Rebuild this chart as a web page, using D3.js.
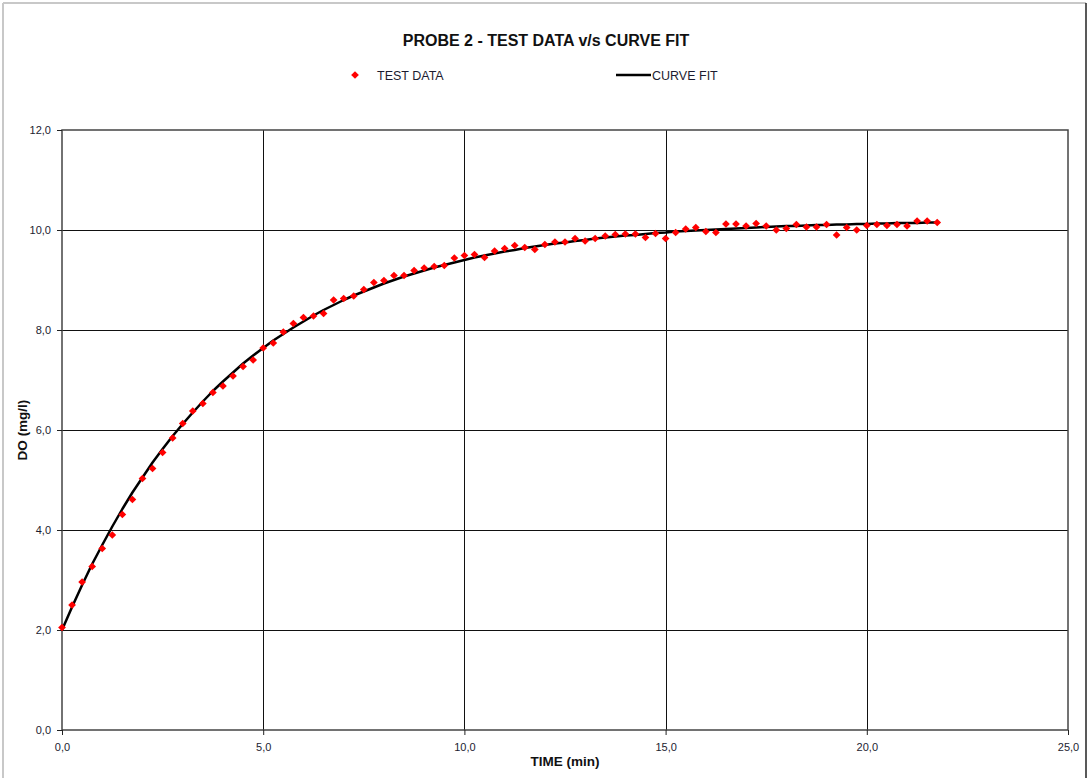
<!DOCTYPE html>
<html>
<head>
<meta charset="utf-8">
<script src="https://cdnjs.cloudflare.com/ajax/libs/d3/7.8.5/d3.min.js"></script>
<style>
  html, body { margin: 0; padding: 0; background: #fff; }
  svg { display: block; font-family: "Liberation Sans", Arial, sans-serif; }
</style>
</head>
<body>
<svg width="1089" height="778"></svg>
<script>
// time of each reading (min)
var times = [
  0, 0.25, 0.5, 0.75, 1, 1.25, 1.5, 1.75, 2, 2.25, 2.5, 2.75,
  3, 3.25, 3.5, 3.75, 4, 4.25, 4.5, 4.75, 5, 5.25, 5.5, 5.75,
  6, 6.25, 6.5, 6.75, 7, 7.25, 7.5, 7.75, 8, 8.25, 8.5, 8.75,
  9, 9.25, 9.5, 9.75, 10, 10.25, 10.5, 10.75, 11, 11.25, 11.5, 11.75,
  12, 12.25, 12.5, 12.75, 13, 13.25, 13.5, 13.75, 14, 14.25, 14.5, 14.75,
  15, 15.25, 15.5, 15.75, 16, 16.25, 16.5, 16.75, 17, 17.25, 17.5, 17.75,
  18, 18.25, 18.5, 18.75, 19, 19.25, 19.5, 19.75, 20, 20.25, 20.5, 20.75,
  21, 21.25, 21.5, 21.75
];

// measured DO (mg/l)
var testData = [
  2.05, 2.50, 2.96, 3.27, 3.63, 3.90, 4.31, 4.61, 5.03, 5.23, 5.55, 5.84,
  6.13, 6.38, 6.53, 6.75, 6.88, 7.08, 7.27, 7.40, 7.64, 7.74, 7.96, 8.13,
  8.25, 8.28, 8.33, 8.60, 8.63, 8.68, 8.81, 8.95, 8.99, 9.09, 9.09, 9.19,
  9.24, 9.27, 9.29, 9.44, 9.49, 9.51, 9.45, 9.58, 9.63, 9.69, 9.65, 9.61,
  9.71, 9.76, 9.76, 9.83, 9.78, 9.83, 9.88, 9.91, 9.92, 9.92, 9.85, 9.93,
  9.83, 9.95, 10.02, 10.05, 9.97, 9.95, 10.12, 10.12, 10.08, 10.13, 10.08, 10.00,
  10.03, 10.11, 10.06, 10.06, 10.11, 9.90, 10.05, 10.00, 10.09, 10.11, 10.09, 10.11,
  10.08, 10.18, 10.18, 10.15
];

// fitted curve (mg/l)
var curveFit = [
  2.00, 2.46, 2.90, 3.32, 3.70, 4.07, 4.42, 4.75, 5.05, 5.35, 5.62, 5.88,
  6.12, 6.35, 6.57, 6.78, 6.97, 7.15, 7.33, 7.49, 7.64, 7.79, 7.92, 8.05,
  8.17, 8.29, 8.40, 8.50, 8.60, 8.69, 8.77, 8.85, 8.93, 9.00, 9.07, 9.13,
  9.19, 9.25, 9.30, 9.35, 9.40, 9.45, 9.49, 9.53, 9.57, 9.60, 9.64, 9.67,
  9.70, 9.73, 9.75, 9.78, 9.80, 9.83, 9.85, 9.87, 9.89, 9.90, 9.92, 9.94,
  9.95, 9.97, 9.98, 9.99, 10.00, 10.01, 10.02, 10.03, 10.04, 10.05, 10.06, 10.07,
  10.08, 10.08, 10.09, 10.10, 10.10, 10.11, 10.11, 10.12, 10.12, 10.13, 10.13, 10.14,
  10.14, 10.14, 10.15, 10.15
];

var xTicks = [0, 5, 10, 15, 20, 25];
var yTicks = [0, 2, 4, 6, 8, 10, 12];

var svg = d3.select('svg');

// comma decimal like the original
var fmt = d3.formatLocale({decimal: ",", thousands: ".", grouping: [3], currency: ["", ""]}).format(".1f");

// outer chart frame
svg.append('line').attr('x1', 3).attr('y1', 3).attr('x2', 1086).attr('y2', 3)
    .attr('stroke', '#c8c8c8').attr('stroke-width', 2);
svg.append('line').attr('x1', 3).attr('y1', 3).attr('x2', 3).attr('y2', 778)
    .attr('stroke', '#c8c8c8').attr('stroke-width', 2);
svg.append('line').attr('x1', 1086).attr('y1', 3).attr('x2', 1086).attr('y2', 778)
    .attr('stroke', '#222').attr('stroke-width', 1.5);

var margin = {top: 130, right: 21, bottom: 48, left: 62},
    width = 1089 - margin.left - margin.right,
    height = 778 - margin.top - margin.bottom;

var g = svg.append('g')
    .attr('transform', 'translate(' + margin.left + ',' + margin.top + ')');

var x = d3.scaleLinear().domain([0, 25]).range([0, width]);
var y = d3.scaleLinear().domain([0, 12]).range([height, 0]);

// gridlines
g.append('g').selectAll('line')
    .data(yTicks.slice(1, -1))
    .enter().append('line')
    .attr('x1', 0).attr('x2', width)
    .attr('y1', function (d) { return Math.round(y(d)) + 0.5; })
    .attr('y2', function (d) { return Math.round(y(d)) + 0.5; })
    .attr('stroke', '#111').attr('stroke-width', 1);

g.append('g').selectAll('line')
    .data(xTicks.slice(1, -1))
    .enter().append('line')
    .attr('y1', 0).attr('y2', height)
    .attr('x1', function (d) { return Math.round(x(d)) + 0.5; })
    .attr('x2', function (d) { return Math.round(x(d)) + 0.5; })
    .attr('stroke', '#111').attr('stroke-width', 1);

// plot border
g.append('rect')
    .attr('x', 0).attr('y', 0).attr('width', width).attr('height', height)
    .attr('fill', 'none').attr('stroke', '#444').attr('stroke-width', 1.5);

// axes
var xAxis = d3.axisBottom(x).tickValues(xTicks).tickFormat(fmt).tickSizeInner(5).tickSizeOuter(0).tickPadding(8);
var yAxis = d3.axisLeft(y).tickValues(yTicks).tickFormat(fmt).tickSizeInner(5).tickSizeOuter(0).tickPadding(6);

var gx = g.append('g')
    .attr('class', 'x axis')
    .attr('transform', 'translate(0,' + height + ')')
    .call(xAxis);
var gy = g.append('g')
    .attr('class', 'y axis')
    .call(yAxis);

[gx, gy].forEach(function (ax) {
    ax.select('.domain').remove();
    ax.selectAll('line').attr('stroke', '#222');
    ax.selectAll('text')
	.style('font-family', '"Liberation Sans", Arial, sans-serif')
	.style('font-size', '11px')
	.attr('fill', '#1c1c30');
});

// curve fit line
var pts = times.map(function (t, i) { return {t: t, fit: curveFit[i], val: testData[i]}; });

var line = d3.line()
    .x(function (d) { return x(d.t); })
    .y(function (d) { return y(d.fit); });

g.append('path')
    .datum(pts)
    .attr('d', line)
    .attr('fill', 'none')
    .attr('stroke', '#000')
    .attr('stroke-width', 2.5)
    .attr('stroke-linejoin', 'round');

// test data markers (diamonds)
var diamond = d3.symbol().type(d3.symbolSquare).size(30);

g.append('g').selectAll('path')
    .data(pts)
    .enter().append('path')
    .attr('d', diamond)
    .attr('transform', function (d) { return 'translate(' + x(d.t) + ',' + y(d.val) + ') rotate(45)'; })
    .attr('fill', '#ff0000');

// titles
svg.append('text')
    .attr('x', 546).attr('y', 46)
    .attr('text-anchor', 'middle')
    .style('font-size', '16px').style('font-weight', 'bold')
    .attr('fill', '#111')
    .text('PROBE 2 - TEST DATA v/s CURVE FIT');

svg.append('text')
    .attr('x', margin.left + width / 2).attr('y', 766)
    .attr('text-anchor', 'middle')
    .style('font-size', '13.5px').style('font-weight', 'bold')
    .attr('fill', '#111')
    .text('TIME (min)');

svg.append('text')
    .attr('transform', 'translate(27,' + (margin.top + height / 2) + ') rotate(-90)')
    .attr('text-anchor', 'middle')
    .style('font-size', '13.5px').style('font-weight', 'bold')
    .attr('fill', '#111')
    .text('DO (mg/l)');

// legend
var legend = svg.append('g');
legend.append('path')
    .attr('d', diamond)
    .attr('transform', 'translate(355,75) rotate(45)')
    .attr('fill', '#ff0000');
legend.append('text')
    .attr('x', 377).attr('y', 79.5)
    .style('font-size', '12.5px')
    .attr('fill', '#1c1c30')
    .text('TEST DATA');
legend.append('line')
    .attr('x1', 616).attr('x2', 651).attr('y1', 75).attr('y2', 75)
    .attr('stroke', '#000').attr('stroke-width', 2.5);
legend.append('text')
    .attr('x', 652).attr('y', 79.5)
    .style('font-size', '12.5px')
    .attr('fill', '#1c1c30')
    .text('CURVE FIT');
</script>
</body>
</html>
